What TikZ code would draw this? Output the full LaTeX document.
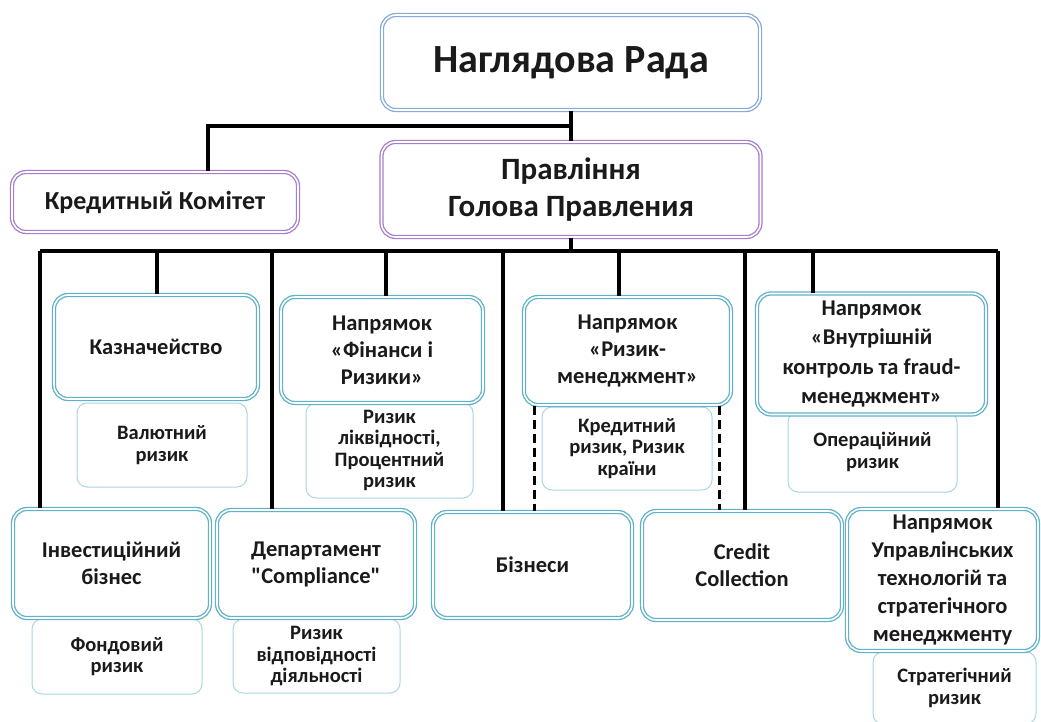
\documentclass[tikz,border=0pt]{standalone}
\usepackage{fontspec}
\setmainfont{Carlito}[Ligatures=TeXOff]
\usetikzlibrary{calc}
\definecolor{bluebox}{HTML}{86AADA}
\definecolor{purplebox}{HTML}{A67ECB}
\definecolor{tealbox}{HTML}{5FB2CA}
\definecolor{lightteal}{HTML}{A9D7E4}
\definecolor{txt}{HTML}{1A1A1A}
\begin{document}
\begin{tikzpicture}[x=1pt,y=-1pt,
  conn/.style={line width=3.2pt, draw=black},
  dashconn/.style={line width=3.2pt, draw=black, dash pattern=on 9pt off 5pt},
  dbox/.style={rounded corners=14pt, draw=#1, double=white, double distance=1.6pt,
     line width=1.3pt, fill=white, inner sep=0pt, align=center, text=txt,
     font=\bfseries\fontsize{22.5}{27}\selectfont},
  riskbox/.style={rounded corners=10pt, draw=lightteal, line width=1pt, fill=white,
     inner sep=0pt, align=center, text=txt, font=\bfseries\fontsize{20.5}{21.5}\selectfont},
  sz/.style n args={2}{minimum width=#1pt, minimum height=#2pt}
]
\useasboundingbox (0,0) rectangle (1041,722);
\fill[white] (0,0) rectangle (1041,722);

% ---------- coordinates of the connector grid
\coordinate (j1) at (571,126);
\coordinate (jkk) at (208,126);
\coordinate (bus) at (571,251);
\coordinate (b1) at (40,251);
\coordinate (b2) at (157,251);
\coordinate (b3) at (272,251);
\coordinate (b4) at (386,251);
\coordinate (b5) at (503,251);
\coordinate (b6) at (619,251);
\coordinate (b7) at (745,251);
\coordinate (b8) at (813,251);
\coordinate (b9) at (998,251);

% ---------- risk boxes (behind)
\node[riskbox, sz={170}{84}] (val) at (162,445) {Валютний\\ризик};
\node[riskbox, sz={167}{95}] (liq) at (389.5,450.5) {Ризик\\ліквідності,\\Процентний\\ризик};
\node[riskbox, sz={170}{83}] (kr) at (627,448.5) {Кредитний\\ризик, Ризик\\країни};
\node[riskbox, sz={169}{80}] (op) at (872.5,452) {Операційний\\ризик};
\node[riskbox, sz={170}{75}] (fond) at (117,656.5) {Фондовий\\ризик};
\node[riskbox, sz={167}{74}] (vid) at (316.5,656) {Ризик\\відповідності\\діяльності};
\node[riskbox, sz={163}{72}] (str) at (954.5,688) {Стратегічний\\ризик};

% ---------- main boxes
\node[dbox=bluebox, sz={378}{95}, font=\bfseries\fontsize{40}{44}\selectfont] (rada) at (571,62.5) {Наглядова Рада};
\node[dbox=purplebox, sz={286}{60}, font=\bfseries\fontsize{26}{30}\selectfont] (kk) at (155,202) {Кредитный Комітет};
\node[dbox=purplebox, sz={379}{95}, font=\bfseries\fontsize{31}{37}\selectfont] (prav) at (571,189.5) {Правління\\Голова Правления};

\node[dbox=tealbox, sz={204}{104}] (kaz) at (156,347) {Казначейство};
\node[dbox=tealbox, sz={202}{106}] (fin) at (382,350) {Напрямок\\«Фінанси і\\Ризики»};
\node[dbox=tealbox, sz={207}{108}] (rm) at (627.5,351) {Напрямок\\«Ризик-\\менеджмент»};
\node[dbox=tealbox, sz={229}{121}, font=\bfseries\fontsize{22.5}{29.5}\selectfont] (vk) at (871.5,354) {Напрямок\\«Внутрішній\\контроль та fraud-\\менеджмент»};

\node[dbox=tealbox, sz={197}{109}] (inv) at (111.5,563.5) {Інвестиційний\\бізнес};
\node[dbox=tealbox, sz={198}{108}] (dep) at (316,564) {Департамент\\"Compliance"};
\node[dbox=tealbox, sz={199}{106}] (biz) at (532.5,565) {Бізнеси};
\node[dbox=tealbox, sz={200}{109}] (cc) at (742,565.5) {Credit\\Collection};
\node[dbox=tealbox, sz={191}{142}, font=\bfseries\fontsize{22.5}{28}\selectfont] (upr) at (942.5,580) {Напрямок\\Управлінських\\технологій та\\стратегічного\\менеджменту};

% ---------- connectors
\draw[conn] (rada.south) -- (prav.north);
\draw[conn] (j1) -- (jkk) -- (kk.north -| jkk);
\draw[conn] (prav.south) -- (bus);
\draw[conn] (b1) -- (b9);
\draw[conn] (b1) -- (b1 |- inv.north);
\draw[conn] (b2) -- (b2 |- kaz.north);
\draw[conn] (b3) -- (b3 |- dep.north);
\draw[conn] (b4) -- (b4 |- fin.north);
\draw[conn] (b5) -- (b5 |- biz.north);
\draw[conn] (b6) -- (b6 |- rm.north);
\draw[conn] (b7) -- (b7 |- cc.north);
\draw[conn] (b8) -- (b8 |- vk.north);
\draw[conn] (b9) -- (b9 |- upr.north);

\coordinate (d1) at ($(rm.south west)+(11,0)$);
\coordinate (d2) at ($(rm.south east)+(-12,0)$);
\draw[dashconn] (d1) -- (d1 |- biz.north);
\draw[dashconn] (d2) -- (d2 |- cc.north);
\end{tikzpicture}
\end{document}
